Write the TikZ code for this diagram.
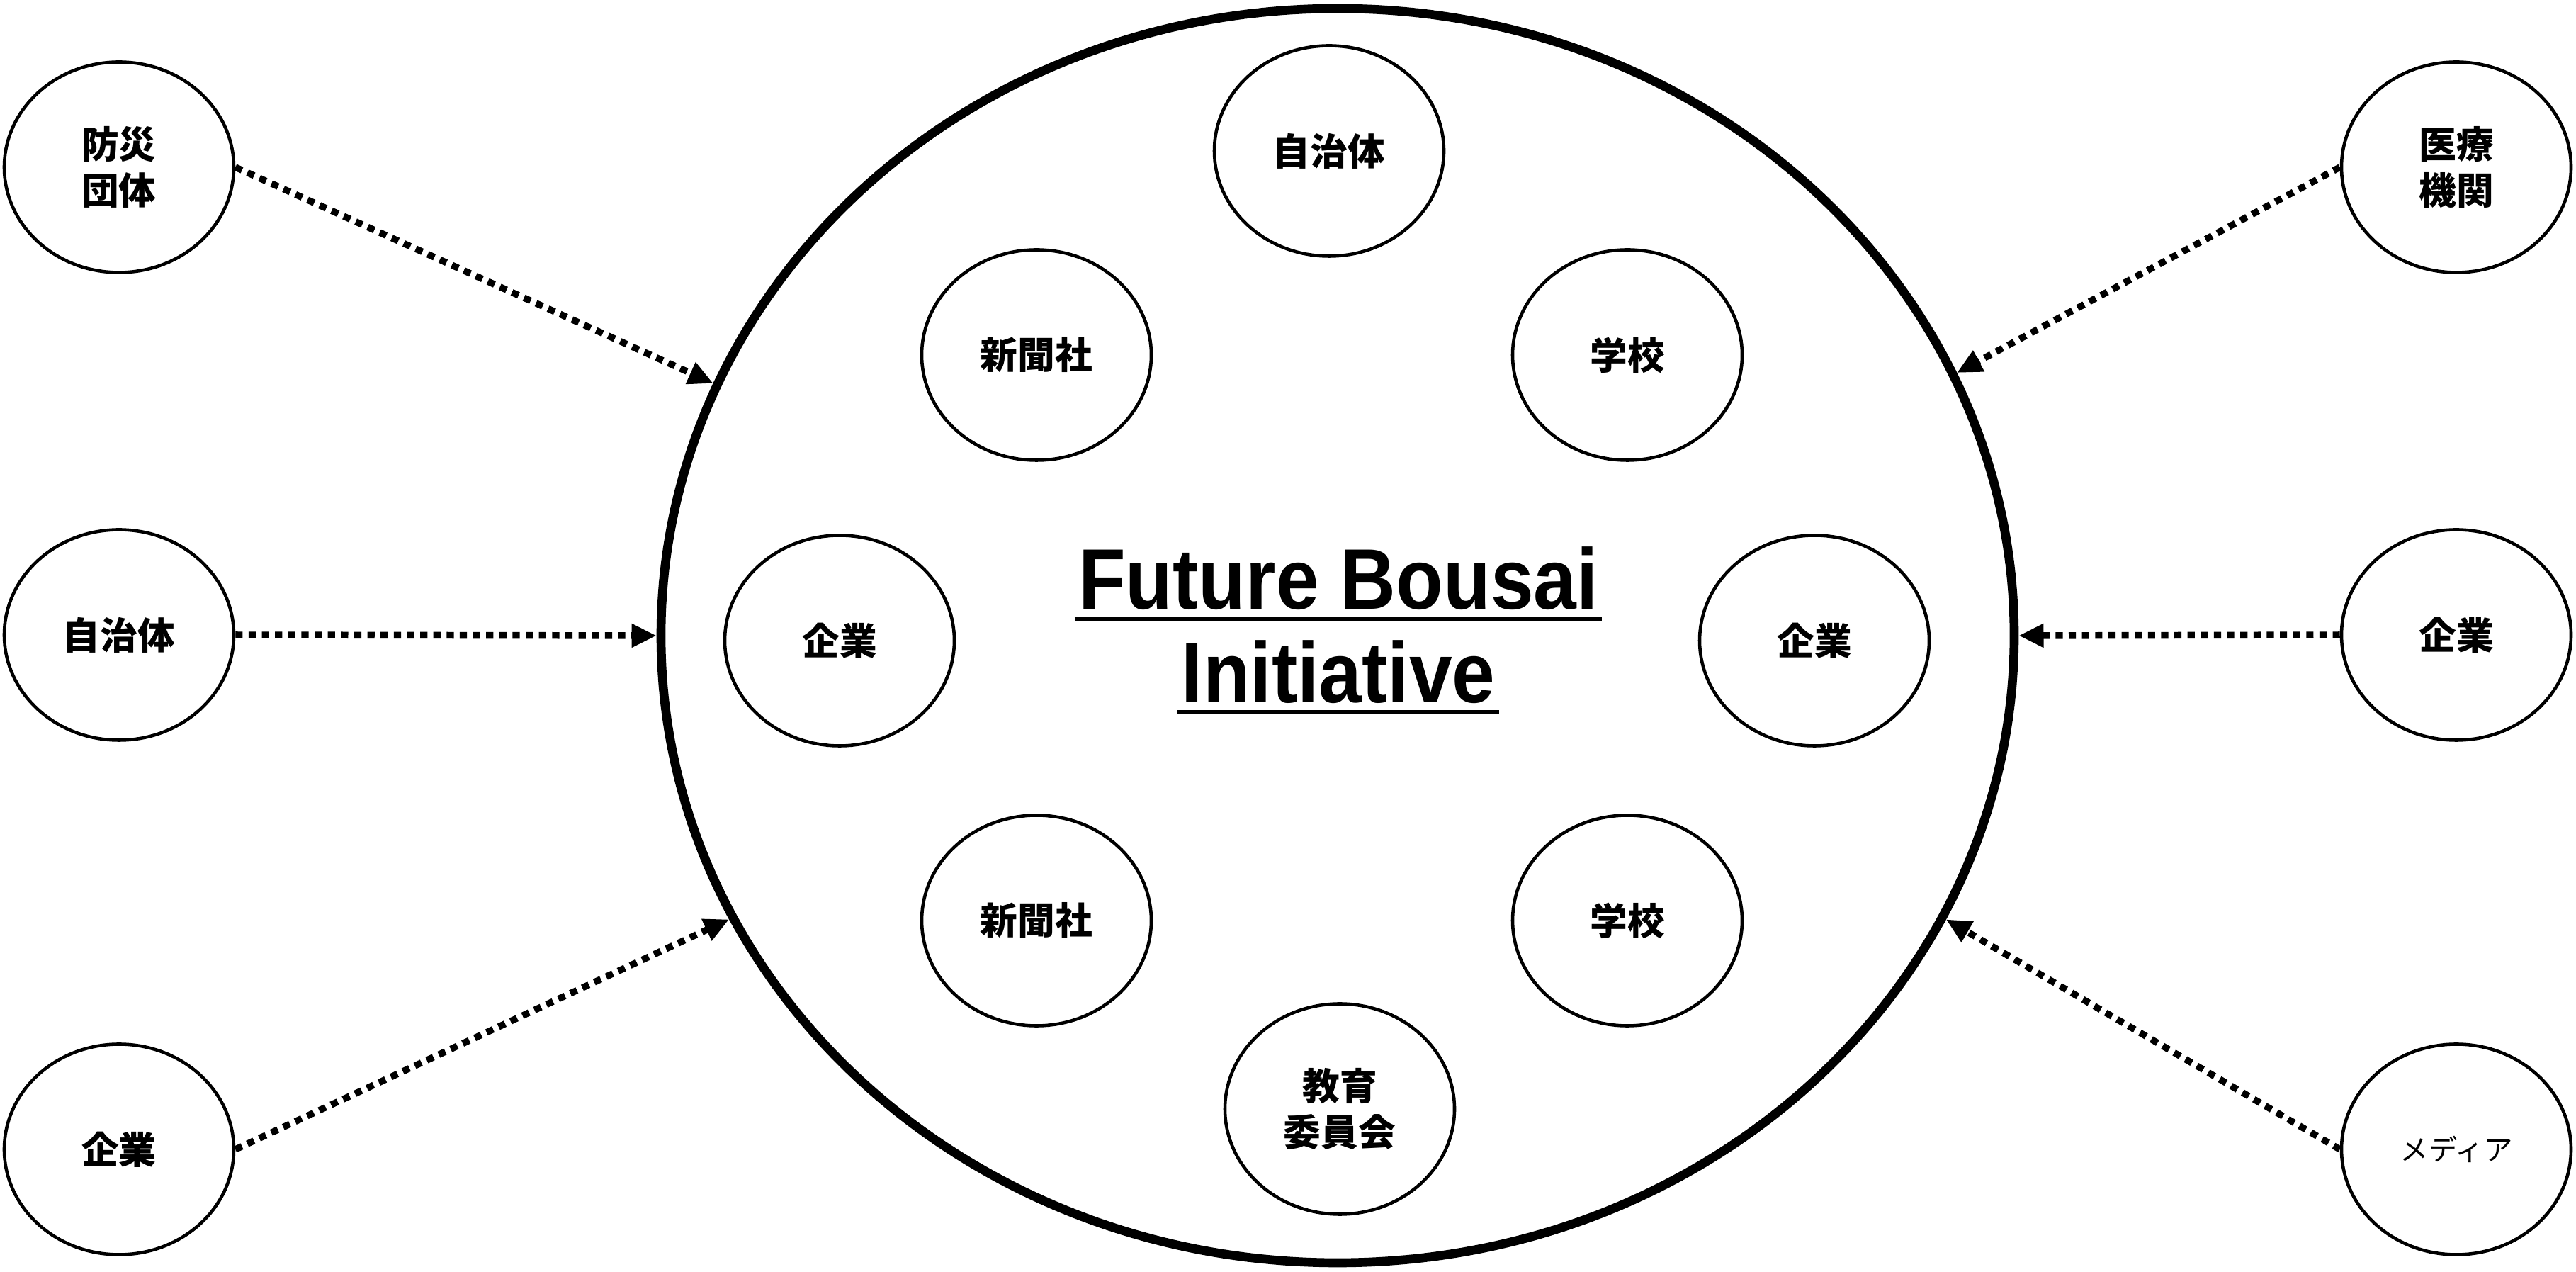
\documentclass[tikz,border=0pt]{standalone}
\usepackage{fontspec}
\setmainfont{Noto Sans CJK JP}
\newfontfamily\titlefont{Liberation Sans}[FakeStretch=0.9]
\usetikzlibrary{shapes.geometric,arrows.meta}

\newsavebox\ulbox
\newcommand\ulline[1]{\sbox\ulbox{#1}\rlap{\kern-1.5pt\rule[-4.8pt]{\dimexpr\wd\ulbox+3pt\relax}{1.7pt}}\usebox\ulbox}

\begin{document}
\begin{tikzpicture}[
        >={Triangle[length=10pt,width=9pt]},
        org/.style={draw, ellipse, line width=1.3pt, minimum width=3.24cm, minimum height=2.97cm,
            inner sep=0pt, align=center, font=\fontsize{15pt}{18.7pt}\selectfont\bfseries},
        link/.style={->, line width=2.7pt, dash pattern=on 2.9pt off 2.4pt}
    ]
        \useasboundingbox (0,0) rectangle (36.36,17.95);

        % --- Cadre central ---
        \node[draw, ellipse, line width=3.6pt, minimum width=19.1cm, minimum height=17.7cm, inner sep=0pt] (fbi) at (18.88,8.98) {};
        \node[font=\titlefont\bfseries\fontsize{34.5pt}{37.3pt}\selectfont, align=center] (titre) at (18.89,9.05)
            {\ulline{Future Bousai}\\\ulline{Initiative}};

        % --- Membres (dans le cadre) ---
        \node[org] (jichiIn) at (18.76,15.82) {自治体};
        \node[org] (shinbunA) at (14.63,12.94) {新聞社};
        \node[org] (gakkouA) at (22.97,12.94) {学校};
        \node[org] (kigyoIn) at (11.85,8.91) {企業};
        \node[org] (kigyoIn2) at (25.61,8.91) {企業};
        \node[org] (shinbunB) at (14.63,4.96) {新聞社};
        \node[org] (gakkouB) at (22.97,4.96) {学校};
        \node[org] (kyoiku) at (18.91,2.30) {教育\\委員会};

        % --- Partenaires (gauche) ---
        \node[org] (bousai) at (1.68,15.59) {防災\\団体};
        \node[org] (jichiOut) at (1.68,8.99) {自治体};
        \node[org] (kigyoL) at (1.68,1.73) {企業};

        % --- Partenaires (droite) ---
        \node[org] (iryou) at (34.67,15.59) {医療\\機関};
        \node[org] (kigyoR) at (34.67,8.99) {企業};
        \node[org, font=\fontsize{11.5pt}{14pt}\selectfont] (media) at (34.67,1.73) {メディア};

        % --- Flèches vers le cadre ---
        \draw[link] (bousai.east) -- (fbi.158);
        \draw[link] (jichiOut.east) -- (fbi.west);
        \draw[link] (kigyoL.east) -- (fbi.-155.2);
        \draw[link] (iryou.west) -- (fbi.23);
        \draw[link] (kigyoR.west) -- (fbi.east);
        \draw[link] (media.west) -- (fbi.-25.3);
    \end{tikzpicture}
\end{document}
